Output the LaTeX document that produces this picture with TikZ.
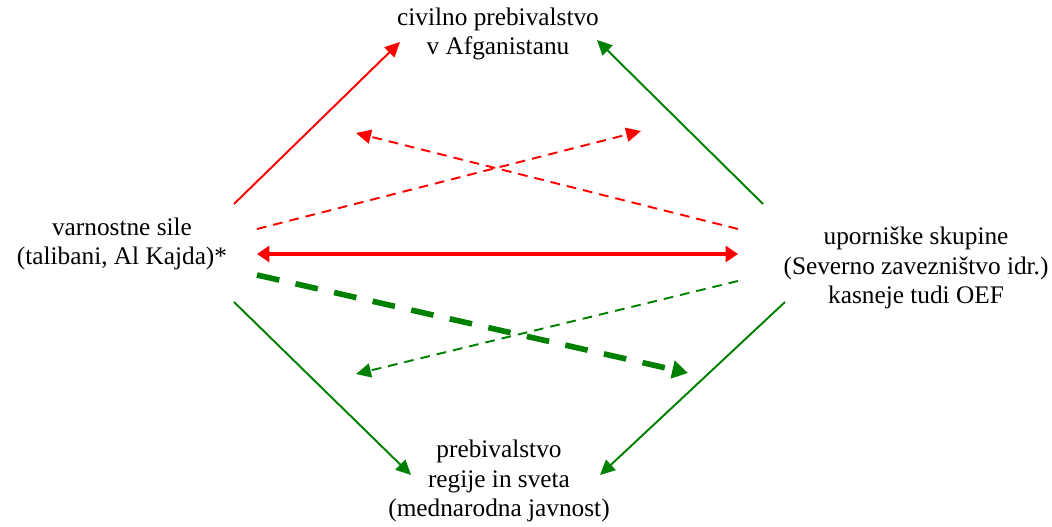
\documentclass[tikz,border=0pt]{standalone}
\usepackage{fontspec}
\setmainfont{Liberation Serif}
\usetikzlibrary{arrows.meta}
\begin{document}
\begin{tikzpicture}[
  x=0.02cm, y=-0.02cm,
  every node/.style={align=center, font=\fontsize{14.4}{16.6}\selectfont},
  thin arrow/.style={line width=1.1pt, -{Triangle[length=8.5pt,width=8pt]}},
  thin dash/.style={thin arrow, dash pattern=on 5.5pt off 4pt},
  thick dash/.style={line width=3.2pt, dash pattern=on 13pt off 9.5pt,
    -{Triangle[length=9pt,width=10pt]}}
]
\useasboundingbox (0,0) rectangle (1052,527);
% actors
\node (civ) at (498,34) {civilno prebivalstvo\\v Afganistanu};
\node (sile) at (122,244) {varnostne sile\\(talibani, Al Kajda)*};
\node (upor) at (916,268) {uporniške skupine\\(Severno zavezništvo idr.)\\kasneje tudi OEF};
\node (javn) at (499,481) {prebivalstvo\\regije in sveta\\(mednarodna javnost)};
% arrow ends
\coordinate (sA) at (234,204);
\coordinate (sB) at (257,229);
\coordinate (sC) at (257,254);
\coordinate (sD) at (257,275);
\coordinate (sE) at (234,302);
\coordinate (uA) at (763,204);
\coordinate (uB) at (738,229);
\coordinate (uC) at (738,254);
\coordinate (uD) at (738,281);
\coordinate (uE) at (785,302);
\coordinate (civL) at (400,42);
\coordinate (civR) at (597,40);
\coordinate (topL) at (356,133);
\coordinate (topR) at (641,131);
\coordinate (botL) at (356,374);
\coordinate (botR) at (688,373);
\coordinate (javL) at (411,475);
\coordinate (javR) at (600,475);
% red
\draw[red, thin arrow] (sA) -- (civL);
\draw[red, thin dash] (sB) -- (topR);
\draw[red, thin dash] (uB) -- (topL);
\draw[red, line width=2.8pt, {Triangle[length=7pt,width=9pt]}-{Triangle[length=7pt,width=9pt]}] (sC) -- (uC);
% green
\draw[green!50!black, thin arrow] (uA) -- (civR);
\draw[green!50!black, thick dash] (sD) -- (botR);
\draw[green!50!black, thin dash] (uD) -- (botL);
\draw[green!50!black, thin arrow] (sE) -- (javL);
\draw[green!50!black, thin arrow] (uE) -- (javR);
\end{tikzpicture}
\end{document}
